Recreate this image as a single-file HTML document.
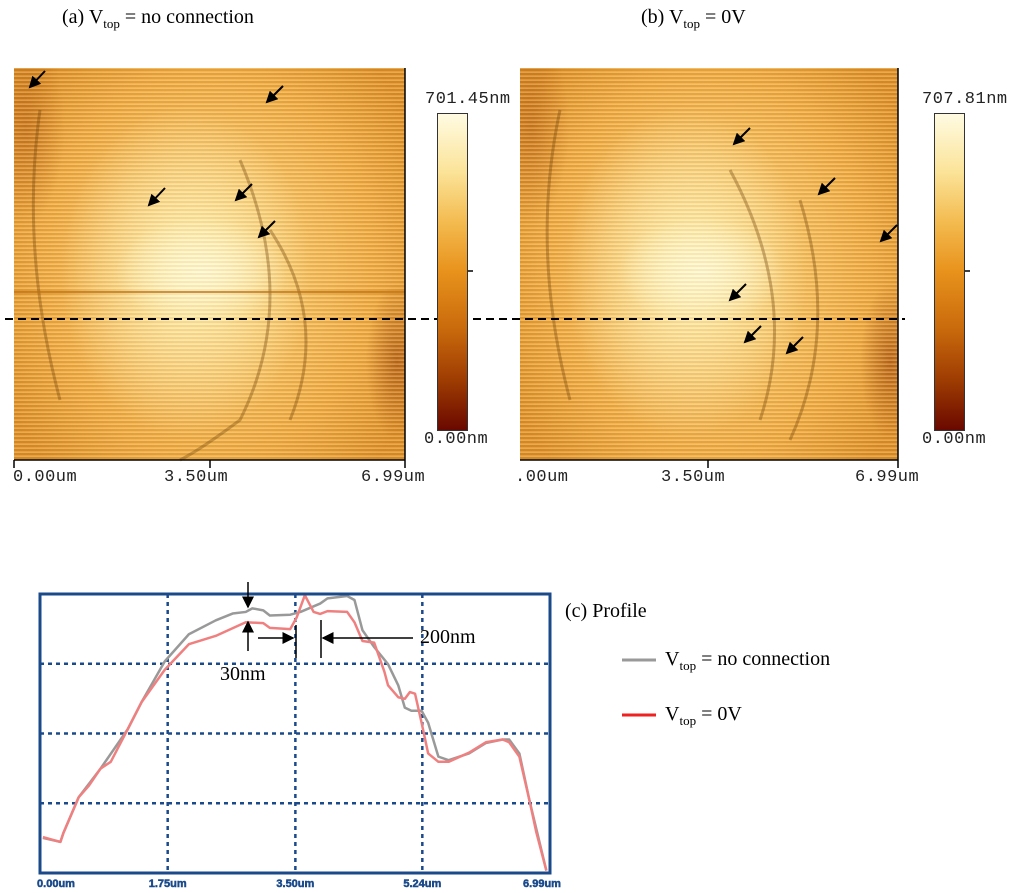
<!DOCTYPE html>
<html><head><meta charset="utf-8">
<style>
html,body{margin:0;padding:0;background:#fff;}
body{width:1024px;height:893px;position:relative;overflow:hidden;font-family:"Liberation Serif",serif;}
.t{position:absolute;white-space:nowrap;color:#000;}
.mono{font-family:"Liberation Mono",monospace;font-size:17px;color:#222;letter-spacing:0.5px;}
.afm{position:absolute;overflow:hidden;
background:
 repeating-linear-gradient(180deg,rgba(255,250,210,0.3) 0 1px,rgba(200,110,10,0.12) 1px 3px,rgba(255,240,190,0.22) 3px 4px),
 radial-gradient(ellipse 22% 14% at 48% 52%,rgba(255,252,220,0.95),rgba(255,250,210,0) 100%),
 radial-gradient(ellipse 32% 42% at 44% 52%,rgba(255,245,190,0.95),rgba(255,240,180,0) 100%),
 radial-gradient(ellipse 8% 20% at 98% 75%,rgba(150,60,0,0.6),rgba(150,60,0,0) 100%),
 radial-gradient(ellipse 10% 25% at 3% 15%,rgba(170,80,5,0.5),rgba(170,80,5,0) 100%),
 radial-gradient(ellipse 60% 70% at 50% 50%,#f9d883 0%,#eba63d 70%,#d98a22 100%);}
.cbar{position:absolute;width:31px;height:318px;border:1px solid #333;box-sizing:border-box;
background:linear-gradient(180deg,#fffbe2 0%,#fbe49a 18%,#f3b94c 35%,#e8921c 50%,#c96a0c 68%,#9c3a02 85%,#6a0800 100%);}
</style></head><body>
<div class="t" style="left:62px;top:6px;font-size:20px;">(a) V<sub style="font-size:13px">top</sub> = no connection</div>
<div class="t" style="left:641px;top:6px;font-size:20px;">(b) V<sub style="font-size:13px">top</sub> = 0V</div>

<div class="afm" style="left:14px;top:68px;width:391px;height:392px;"></div>
<div class="afm" style="left:520px;top:68px;width:378px;height:392px;"></div>

<svg width="1024" height="500" style="position:absolute;left:0;top:0">
 <defs><marker id="ah" markerWidth="6" markerHeight="6" refX="5" refY="3" orient="auto"><path d="M0,0 L6,3 L0,6 z" fill="#000"/></marker></defs>
 <g stroke="#6e3f05" stroke-width="3" fill="none" opacity="0.35">
  <path d="M40,110 Q20,250 60,400"/><path d="M240,160 Q300,300 240,420 Q200,450 180,460"/><path d="M270,230 Q330,320 290,420"/>
  <path d="M560,110 Q530,250 570,400"/><path d="M730,170 Q800,300 760,420"/><path d="M800,200 Q840,330 790,440"/>
 </g>
 <line x1="14" y1="292" x2="405" y2="292" stroke="#b86a10" stroke-width="2" opacity="0.7"/>
 <g stroke="#000" stroke-width="2" marker-end="url(#ah)">
  <line x1="45" y1="71" x2="30" y2="87"/><line x1="283" y1="86" x2="267" y2="102"/>
  <line x1="165" y1="188" x2="149" y2="205"/><line x1="252" y1="184" x2="236" y2="200"/>
  <line x1="275" y1="221" x2="259" y2="237"/>
  <line x1="750" y1="128" x2="734" y2="144"/><line x1="835" y1="178" x2="819" y2="194"/>
  <line x1="897" y1="225" x2="881" y2="241"/><line x1="746" y1="284" x2="730" y2="300"/>
  <line x1="761" y1="326" x2="745" y2="342"/><line x1="803" y1="337" x2="787" y2="353"/>
 </g>
 <line x1="5" y1="319" x2="905" y2="319" stroke="#000" stroke-width="2" stroke-dasharray="8,5"/>
 <g stroke="#000" stroke-width="1.5">
  <line x1="14" y1="460" x2="405" y2="460"/><line x1="14" y1="460" x2="14" y2="468"/><line x1="210" y1="460" x2="210" y2="468"/><line x1="405" y1="460" x2="405" y2="468"/>
  <line x1="520" y1="460" x2="898" y2="460"/><line x1="708" y1="460" x2="708" y2="468"/><line x1="898" y1="460" x2="898" y2="468"/>
  <line x1="405" y1="68" x2="405" y2="460"/><line x1="898" y1="68" x2="898" y2="460"/>
  <line x1="468" y1="271" x2="473" y2="271"/><line x1="965" y1="271" x2="970" y2="271"/>
 </g>
</svg>

<div class="cbar" style="left:437px;top:113px;"></div>
<div class="cbar" style="left:934px;top:113px;"></div>
<div class="t mono" style="left:425px;top:90px;">701.45nm</div>
<div class="t mono" style="left:424px;top:430px;">0.00nm</div>
<div class="t mono" style="left:922px;top:90px;">707.81nm</div>
<div class="t mono" style="left:922px;top:430px;">0.00nm</div>
<div class="t mono" style="left:13px;top:468px;">0.00um</div>
<div class="t mono" style="left:164px;top:468px;">3.50um</div>
<div class="t mono" style="left:361px;top:468px;">6.99um</div>
<div class="t mono" style="left:515px;top:468px;">.00um</div>
<div class="t mono" style="left:661px;top:468px;">3.50um</div>
<div class="t mono" style="left:855px;top:468px;">6.99um</div>

<svg id="profile" width="1024" height="893" style="position:absolute;left:0;top:0"></svg>

<div class="t" style="left:565px;top:600px;font-size:20px;">(c) Profile</div>
<div class="t" style="left:665px;top:648px;font-size:20px;">V<sub style="font-size:13px">top</sub> = no connection</div>
<div class="t" style="left:665px;top:703px;font-size:20px;">V<sub style="font-size:13px">top</sub> = 0V</div>
<div class="t" style="left:220px;top:663px;font-size:20px;">30nm</div>
<div class="t" style="left:420px;top:626px;font-size:20px;">200nm</div>

<script>
const xTicks = [0, 1.75, 3.5, 5.24, 6.99];
const xTickLabels = ["0.00um", "1.75um", "3.50um", "5.24um", "6.99um"];
const yTicks = [175, 350, 525];
const grayX = [0.04,0.28,0.32,0.53,0.83,1.20,1.39,1.71,2.04,2.41,2.64,2.82,2.91,3.06,3.15,3.43,3.57,3.84,3.94,4.21,4.31,4.42,4.58,4.77,4.91,5.00,5.09,5.23,5.32,5.46,5.60,5.88,6.11,6.34,6.43,6.57,6.71,6.94];
const grayY = [88,78,100,190,262,360,428,531,599,634,651,655,664,659,646,648,655,676,689,695,685,609,567,524,471,415,407,407,377,292,283,300,326,335,335,300,181,6];
const redX = [0.04,0.28,0.32,0.53,0.67,0.83,0.97,1.20,1.39,1.71,2.04,2.41,2.82,3.06,3.15,3.43,3.52,3.63,3.75,3.84,3.94,4.21,4.31,4.42,4.58,4.72,4.77,4.91,5.00,5.07,5.14,5.23,5.32,5.46,5.60,5.88,6.11,6.34,6.43,6.57,6.71,6.80,6.94];
const redY = [90,78,100,190,219,262,279,360,428,510,574,595,629,627,615,612,642,697,655,650,657,655,629,582,578,505,471,441,437,454,450,377,300,279,279,302,328,335,328,292,181,104,6];

const L=40,R=550,T=594,B=873,XMAX=6.99,YMAX=700;
const sx=v=>L+(v/XMAX)*(R-L);
const sy=v=>B-(v/YMAX)*(B-T);
const svg=document.getElementById('profile');
const NS='http://www.w3.org/2000/svg';
function mk(tag,attrs){const e=document.createElementNS(NS,tag);for(const k in attrs)e.setAttribute(k,attrs[k]);svg.appendChild(e);return e;}

xTicks.slice(1,4).forEach(v=>{
  const g=mk('line',{x1:sx(v),x2:sx(v),y1:T,y2:B,stroke:'#1a4a8a','stroke-width':2.5,'stroke-dasharray':'4,4'});
  
  
});
yTicks.forEach(v=>{
  const g=mk('line',{x1:L,x2:R,y1:sy(v),y2:sy(v),stroke:'#1a4a8a','stroke-width':2.5,'stroke-dasharray':'4,4'});
  
  
});
xTickLabels.forEach((s,i)=>{
  const t=mk('text',{x:sx(xTicks[i])+(i==0?16:i==4?-8:0),y:B+14,'font-family':'Liberation Sans, sans-serif','font-size':11,'font-weight':'bold',fill:'#1a4a8a','text-anchor':'middle',stroke:'#1a4a8a','stroke-width':0.5});
  t.textContent=s;
  
  
});
function line(xs,ys,col,name){
  const p=mk('polyline',{points:xs.map((x,i)=>sx(x)+','+sy(ys[i])).join(' '),fill:'none',stroke:col,'stroke-width':2.5,'stroke-linejoin':'round'});
  
  
}
line(grayX,grayY,'#999999','series-no-connection');
line(redX,redY,'#f08080','series-0v');
const fr=mk('rect',{x:L,y:T,width:R-L,height:B-T,fill:'none',stroke:'#1a4a8a','stroke-width':3});



const defs=mk('defs',{});
defs.innerHTML='<marker id="pa" markerWidth="8" markerHeight="8" refX="7" refY="4" orient="auto"><path d="M0,0 L8,4 L0,8 z" fill="#000"/></marker>';
const ann=[[248,582,248,607],[248,651,248,622],[258,638,293,638],[413,638,323,638]];
ann.forEach(a=>{
  const l=mk('line',{x1:a[0],y1:a[1],x2:a[2],y2:a[3],stroke:'#000','stroke-width':1.5,'marker-end':'url(#pa)'});
  
  
});
[[296,625,296,658],[321,620,321,658]].forEach(a=>{
  const l=mk('line',{x1:a[0],y1:a[1],x2:a[2],y2:a[3],stroke:'#000','stroke-width':1.5});
  
  
});
const lg1=mk('line',{x1:622,x2:656,y1:660,y2:660,stroke:'#999','stroke-width':3});


const lg2=mk('line',{x1:622,x2:656,y1:715,y2:715,stroke:'#ee2020','stroke-width':3});


</script>
</body></html>
